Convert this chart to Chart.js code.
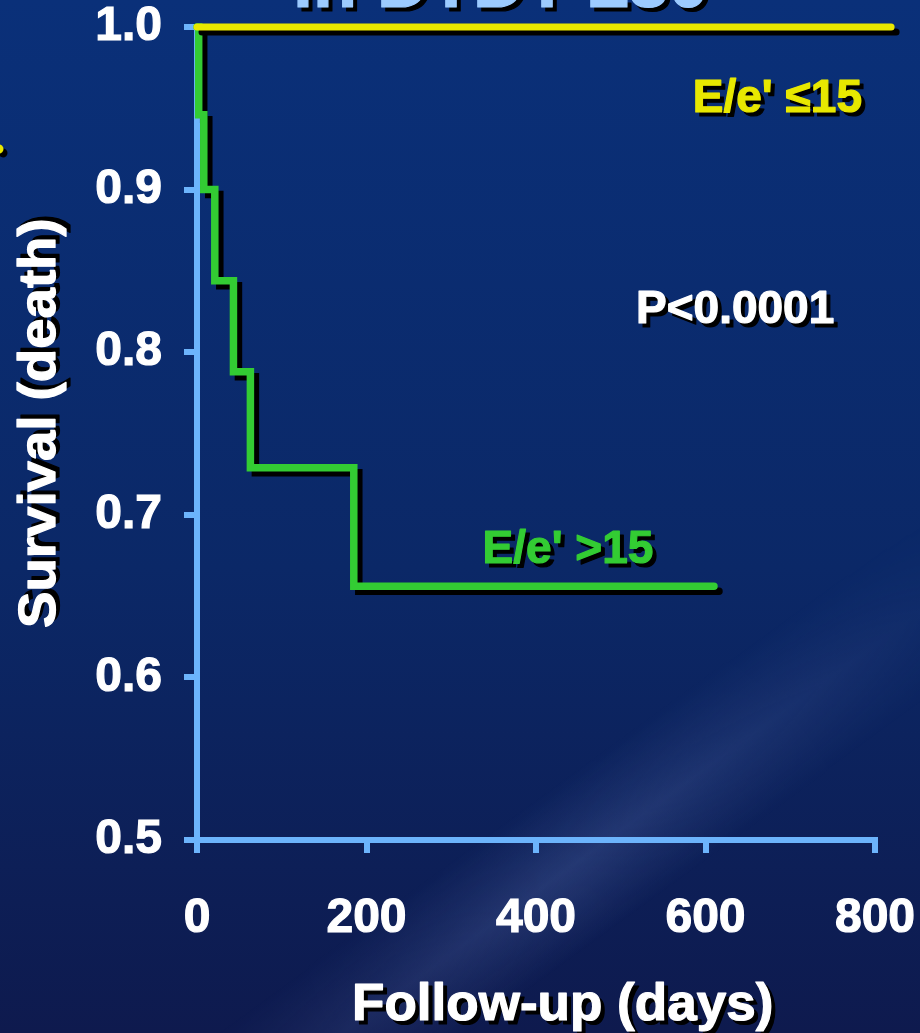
<!DOCTYPE html>
<html>
<head>
<meta charset="utf-8">
<script src="https://cdn.jsdelivr.net/npm/chart.js@4.4.1/dist/chart.umd.min.js"></script>
<style>
  html, body { margin: 0; padding: 0; background: #0b2866; }
  #wrap { width: 920px; height: 1033px; position: relative; }
</style>
</head>
<body>
<div id="wrap"><canvas id="survChart"></canvas></div>
<script>
// Kaplan-Meier curves: survival (death) against follow-up days
var daysHigh = [0, 2, 8, 21, 43, 63, 185, 610];
var survHigh = [1.0, 0.946, 0.9, 0.844, 0.788, 0.729, 0.656, 0.656];
var daysLow = [0, 819];
var survLow = [1.0, 1.0];
var xTicks = [0, 200, 400, 600, 800];
var yTicks = [0.5, 0.6, 0.7, 0.8, 0.9, 1.0];

var axisBlue = '#6cb4fc';
var FONT = "'Liberation Sans', Arial, sans-serif";
Chart.defaults.font.family = FONT;

function toPoints(xs, ys) {
  return xs.map(function (x, i) { return { x: x, y: ys[i] }; });
}

// fixed axis box sizes, no extra room for overhanging tick labels
function fixBox(size) {
  return function (s) {
    if (s.isHorizontal()) s.height = size; else s.width = size;
    s.paddingTop = s.paddingBottom = s.paddingLeft = s.paddingRight = 0;
  };
}

// dark blue slide backdrop with a soft sheen in the lower right
var backdrop = {
  id: 'backdrop',
  beforeDraw: function (chart) {
    var ctx = chart.ctx, w = chart.width, h = chart.height;
    ctx.save();
    var g = ctx.createLinearGradient(0, 0, 0, h);
    g.addColorStop(0, '#0a3079');
    g.addColorStop(0.55, '#0b2867');
    g.addColorStop(1, '#0e1a4e');
    ctx.fillStyle = g;
    ctx.fillRect(0, 0, w, h);

    var off = document.createElement('canvas');
    off.width = w; off.height = h;
    var o = off.getContext('2d');
    o.translate(580, 860);
    o.rotate(-0.63);
    var band = o.createLinearGradient(0, -75, 0, 75);
    band.addColorStop(0, 'rgba(140,165,235,0)');
    band.addColorStop(0.5, 'rgba(140,165,235,0.2)');
    band.addColorStop(1, 'rgba(140,165,235,0)');
    o.fillStyle = band;
    o.fillRect(-1200, -75, 2400, 150);
    o.setTransform(1, 0, 0, 1, 0, 0);
    o.globalCompositeOperation = 'destination-in';
    var fade = o.createRadialGradient(580, 900, 0, 580, 900, 560);
    fade.addColorStop(0, 'rgba(0,0,0,1)');
    fade.addColorStop(1, 'rgba(0,0,0,0)');
    o.fillStyle = fade;
    o.fillRect(0, 0, w, h);
    ctx.drawImage(off, 0, 0);
    ctx.restore();
  }
};

// hard black drop shadow under the curves
var lineShadow = {
  id: 'lineShadow',
  beforeDatasetsDraw: function (chart) {
    var c = chart.ctx;
    c.save();
    c.shadowColor = '#000';
    c.shadowOffsetX = 5;
    c.shadowOffsetY = 5;
    c.shadowBlur = 0;
  },
  afterDatasetsDraw: function (chart) { chart.ctx.restore(); }
};

// heavy bold text with a black drop shadow; stretch widens it along the baseline
function shadowText(ctx, str, x, y, color, size, stretch) {
  ctx.save();
  ctx.translate(x, y);
  ctx.scale(stretch || 1, 1);
  ctx.font = 'bold ' + size + 'px ' + FONT;
  ctx.lineJoin = 'round';
  ctx.lineWidth = 1.2;
  ctx.fillStyle = ctx.strokeStyle = '#000';
  ctx.fillText(str, 4, 4);
  ctx.strokeText(str, 4, 4);
  ctx.fillStyle = ctx.strokeStyle = color;
  ctx.fillText(str, 0, 0);
  ctx.strokeText(str, 0, 0);
  ctx.restore();
}

var labels = {
  id: 'labels',
  afterDraw: function (chart) {
    var ctx = chart.ctx, sx = chart.scales.x, sy = chart.scales.y;
    ctx.save();
    ctx.textAlign = 'left';
    ctx.textBaseline = 'alphabetic';

    // heading, mostly above the top edge
    shadowText(ctx, 'in DTDT \u226530', 293, 7, '#9ccbff', 72);

    // bullet peeking in from the left edge
    ctx.fillStyle = '#000';
    ctx.beginPath(); ctx.arc(3, 153, 4.5, 0, Math.PI * 2); ctx.fill();
    ctx.fillStyle = '#e8e800';
    ctx.beginPath(); ctx.arc(-1, 149, 4.5, 0, Math.PI * 2); ctx.fill();

    shadowText(ctx, "E/e' \u226415", sx.getPixelForValue(585), sy.getPixelForValue(0.948), '#e8e800', 46);
    shadowText(ctx, 'P<0.0001', sx.getPixelForValue(518), sy.getPixelForValue(0.818), '#ffffff', 46);
    shadowText(ctx, "E/e' >15", sx.getPixelForValue(337), sy.getPixelForValue(0.6705), '#33cc33', 46);

    // axis titles
    shadowText(ctx, 'Follow-up (days)', 352, 1020, '#ffffff', 52, 1.02);
    ctx.translate(55, 628);
    ctx.rotate(-Math.PI / 2);
    shadowText(ctx, 'Survival (death)', 0, 0, '#ffffff', 52, 1.05);
    ctx.restore();
  }
};

var tickFont = { size: 48, weight: 'bold', lineHeight: 1 };

var ctx = document.getElementById('survChart').getContext('2d');
new Chart(ctx, {
  type: 'line',
  data: {
    datasets: [{
      label: "E/e' \u226415",
      data: toPoints(daysLow, survLow),
      borderColor: '#e8e800',
      borderWidth: 7,
      borderCapStyle: 'round',
      pointRadius: 0,
      clip: false
    }, {
      label: "E/e' >15",
      data: toPoints(daysHigh, survHigh),
      borderColor: '#33cc33',
      borderWidth: 7.5,
      borderCapStyle: 'round',
      borderJoinStyle: 'miter',
      stepped: 'before',
      pointRadius: 0,
      clip: false
    }]
  },
  options: {
    responsive: true,
    maintainAspectRatio: false,
    animation: false,
    devicePixelRatio: 1,
    layout: { autoPadding: false, padding: { left: 0, right: 45, top: 27, bottom: 0 } },
    plugins: { legend: { display: false }, tooltip: { enabled: false } },
    scales: {
      x: {
        type: 'linear',
        min: 0,
        max: 800,
        afterFit: fixBox(193),
        afterBuildTicks: function (s) { s.ticks = xTicks.map(function (v) { return { value: v }; }); },
        grid: { drawOnChartArea: false, drawTicks: true, tickLength: 13, color: axisBlue, lineWidth: 6 },
        border: { display: true, color: axisBlue, width: 6 },
        ticks: {
          color: '#ffffff', font: tickFont, padding: 42, maxRotation: 0, autoSkip: false,
          textStrokeColor: '#ffffff', textStrokeWidth: 1.2
        }
      },
      y: {
        type: 'linear',
        min: 0.5,
        max: 1.0,
        afterFit: fixBox(197),
        afterBuildTicks: function (s) { s.ticks = yTicks.map(function (v) { return { value: v }; }); },
        grid: { drawOnChartArea: false, drawTicks: true, tickLength: 13, color: axisBlue, lineWidth: 6 },
        border: { display: true, color: axisBlue, width: 6 },
        ticks: {
          color: '#ffffff',
          font: tickFont,
          padding: 22,
          autoSkip: false,
          textStrokeColor: '#ffffff',
          textStrokeWidth: 1.2,
          callback: function (v) { return v.toFixed(1); }
        }
      }
    }
  },
  plugins: [backdrop, lineShadow, labels]
});
</script>
</body>
</html>
